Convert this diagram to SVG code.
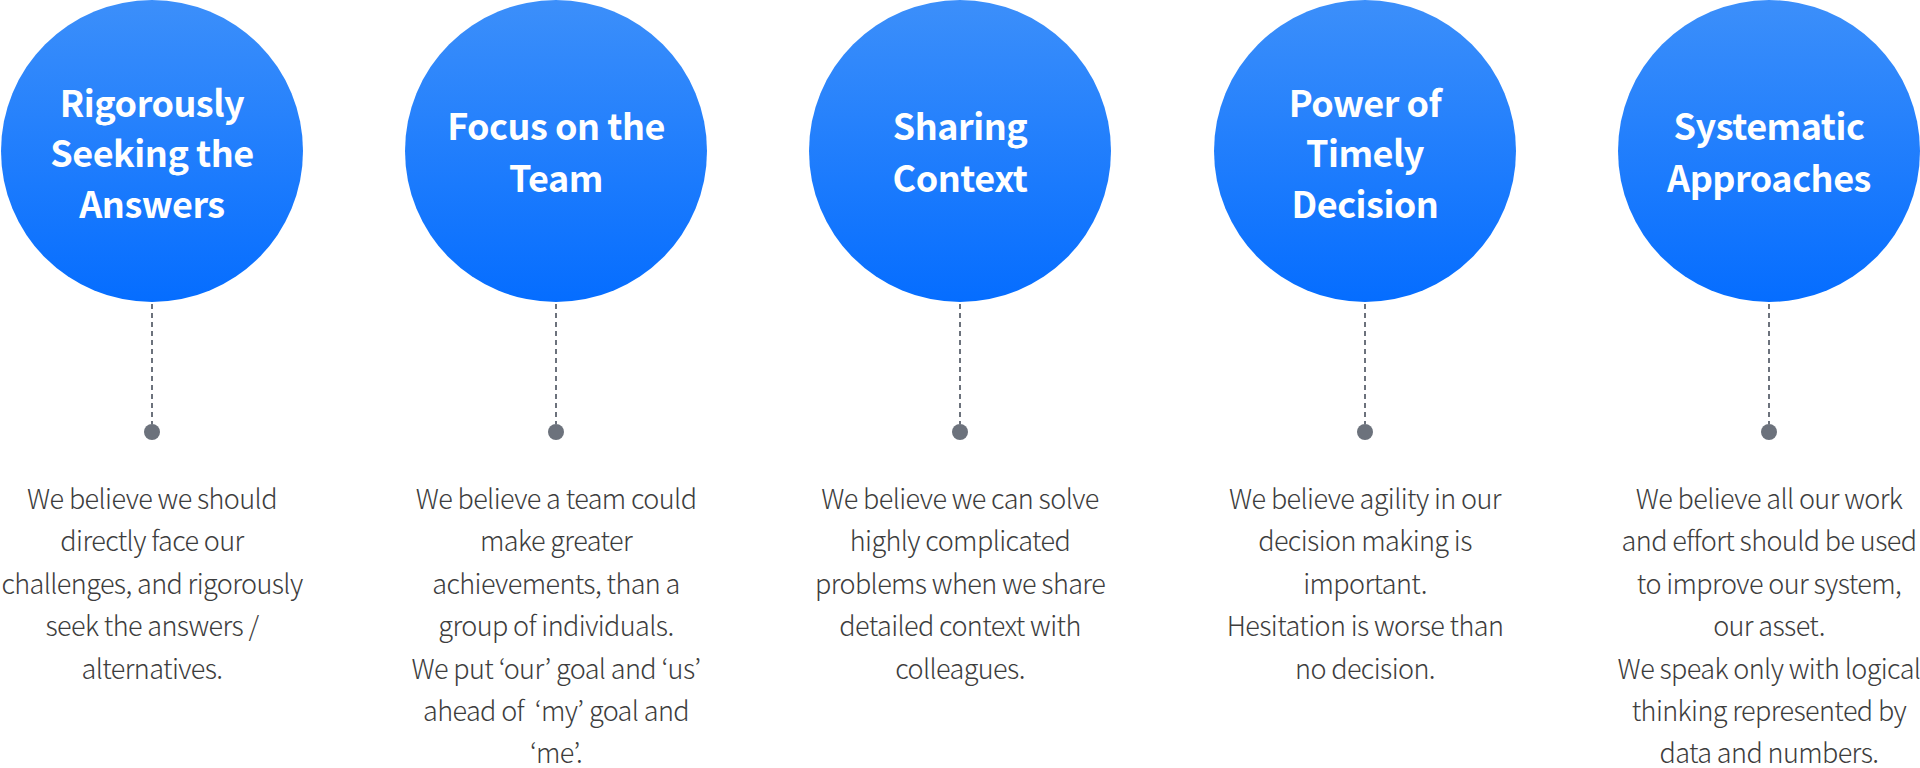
<svg xmlns="http://www.w3.org/2000/svg" width="1920" height="768" viewBox="0 0 1920 768">
  <defs>
    <linearGradient id="blue" x1="0" y1="0" x2="0" y2="1">
      <stop offset="0" stop-color="#3c8ffa"/>
      <stop offset="1" stop-color="#056dff"/>
    </linearGradient>
    <style>
      .circ { fill: url(#blue); }
      .title { font-family: "Noto Sans CJK KR", "Noto Sans", sans-serif; font-weight: 700; font-size: 36px; fill: #ffffff; text-anchor: middle; letter-spacing: -0.5px; }
      .body { font-family: "Noto Sans CJK KR", "Noto Sans", sans-serif; font-weight: 300; font-size: 27px; fill: #3d3d3d; text-anchor: middle; letter-spacing: -0.6px; }
      .dash { stroke: #6c727c; stroke-width: 2; stroke-dasharray: 5 4; fill: none; }
      .dot { fill: #6c727c; }
    </style>
  </defs>
  <rect width="1920" height="768" fill="#ffffff"/>

  <g id="connectors">
    <line class="dash" x1="152" y1="304" x2="152" y2="424"/>
    <line class="dash" x1="556" y1="304" x2="556" y2="424"/>
    <line class="dash" x1="960" y1="304" x2="960" y2="424"/>
    <line class="dash" x1="1365" y1="304" x2="1365" y2="424"/>
    <line class="dash" x1="1769" y1="304" x2="1769" y2="424"/>
    <circle class="dot" cx="152" cy="432" r="8"/>
    <circle class="dot" cx="556" cy="432" r="8"/>
    <circle class="dot" cx="960" cy="432" r="8"/>
    <circle class="dot" cx="1365" cy="432" r="8"/>
    <circle class="dot" cx="1769" cy="432" r="8"/>
  </g>

  <g id="node1">
    <circle class="circ" cx="152" cy="151" r="151"/>
    <text class="title" x="152" y="117">Rigorously</text>
    <text class="title" x="152" y="167">Seeking the</text>
    <text class="title" x="152" y="218">Answers</text>
    <text class="body" x="152" y="509">We believe we should</text>
    <text class="body" x="152" y="551.4">directly face our</text>
    <text class="body" x="152" y="593.8">challenges, and rigorously</text>
    <text class="body" x="152" y="636.2">seek the answers /</text>
    <text class="body" x="152" y="678.6">alternatives.</text>
  </g>

  <g id="node2">
    <circle class="circ" cx="556" cy="151" r="151"/>
    <text class="title" x="556" y="140">Focus on the</text>
    <text class="title" x="556" y="192">Team</text>
    <text class="body" x="556" y="509">We believe a team could</text>
    <text class="body" x="556" y="551.4">make greater</text>
    <text class="body" x="556" y="593.8">achievements, than a</text>
    <text class="body" x="556" y="636.2">group of individuals.</text>
    <text class="body" x="556" y="678.6">We put ‘our’ goal and ‘us’</text>
    <text class="body" x="556" y="721" xml:space="preserve">ahead of  ‘my’ goal and</text>
    <text class="body" x="556" y="763.4">‘me’.</text>
  </g>

  <g id="node3">
    <circle class="circ" cx="960" cy="151" r="151"/>
    <text class="title" x="960" y="140">Sharing</text>
    <text class="title" x="960" y="192">Context</text>
    <text class="body" x="960" y="509">We believe we can solve</text>
    <text class="body" x="960" y="551.4">highly complicated</text>
    <text class="body" x="960" y="593.8">problems when we share</text>
    <text class="body" x="960" y="636.2">detailed context with</text>
    <text class="body" x="960" y="678.6">colleagues.</text>
  </g>

  <g id="node4">
    <circle class="circ" cx="1365" cy="151" r="151"/>
    <text class="title" x="1365" y="117">Power of</text>
    <text class="title" x="1365" y="167">Timely</text>
    <text class="title" x="1365" y="218">Decision</text>
    <text class="body" x="1365" y="509">We believe agility in our</text>
    <text class="body" x="1365" y="551.4">decision making is</text>
    <text class="body" x="1365" y="593.8">important.</text>
    <text class="body" x="1365" y="636.2">Hesitation is worse than</text>
    <text class="body" x="1365" y="678.6">no decision.</text>
  </g>

  <g id="node5">
    <circle class="circ" cx="1769" cy="151" r="151"/>
    <text class="title" x="1769" y="140">Systematic</text>
    <text class="title" x="1769" y="192">Approaches</text>
    <text class="body" x="1769" y="509">We believe all our work</text>
    <text class="body" x="1769" y="551.4">and effort should be used</text>
    <text class="body" x="1769" y="593.8">to improve our system,</text>
    <text class="body" x="1769" y="636.2">our asset.</text>
    <text class="body" x="1769" y="678.6">We speak only with logical</text>
    <text class="body" x="1769" y="721">thinking represented by</text>
    <text class="body" x="1769" y="763.4">data and numbers.</text>
  </g>
</svg>
